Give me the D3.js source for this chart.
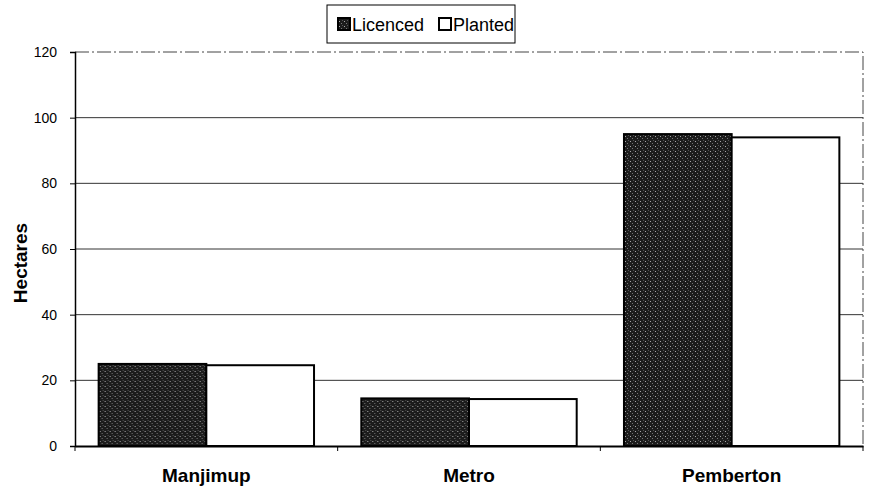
<!DOCTYPE html>
<html>
<head>
<meta charset="utf-8">
<script src="https://cdn.jsdelivr.net/npm/d3@7"></script>
<style>
  body { margin: 0; background: #fff; }
  svg { display: block; font-family: Arial, "Liberation Sans", sans-serif; }
</style>
</head>
<body>
<script>
// data
const regions = ["Manjimup", "Metro", "Pemberton"];
const series = ["Licenced", "Planted"];
const licenced = [25, 14.5, 95];
const planted = [24.6, 14.3, 94];
const yTicks = [0, 20, 40, 60, 80, 100, 120];

const w = 873, h = 493;
const m = { top: 52, right: 10, bottom: 47, left: 75 };

const svg = d3.select("body").append("svg")
  .attr("width", w)
  .attr("height", h);

// speckled dark fill, like the scanned original
const defs = svg.append("defs");
const pat = defs.append("pattern")
  .attr("id", "speckle")
  .attr("width", 5).attr("height", 5)
  .attr("patternUnits", "userSpaceOnUse");
pat.append("rect").attr("width", 5).attr("height", 5).attr("fill", "#1c1c1c");
pat.append("rect").attr("x", 1).attr("y", 1).attr("width", 1).attr("height", 1).attr("fill", "#aaa");
pat.append("rect").attr("x", 3).attr("y", 3).attr("width", 1).attr("height", 1).attr("fill", "#777");
pat.append("rect").attr("x", 4).attr("y", 0).attr("width", 1).attr("height", 1).attr("fill", "#555");

const x0 = d3.scaleBand()
  .domain(regions)
  .range([m.left, w - m.right])
  .paddingInner(0.18)
  .paddingOuter(0.09);

const x1 = d3.scaleBand()
  .domain(series)
  .range([0, x0.bandwidth()]);

const y = d3.scaleLinear()
  .domain([0, 120])
  .range([h - m.bottom, m.top]);

// gridlines
svg.append("g")
  .selectAll("line")
  .data(yTicks.slice(1, -1))
  .join("line")
  .attr("x1", m.left).attr("x2", w - m.right)
  .attr("y1", d => y(d)).attr("y2", d => y(d))
  .attr("stroke", "#333")
  .attr("stroke-width", 1);

// top and right border (broken like the scan)
svg.append("path")
  .attr("d", `M${m.left},${y(120)}H${w - m.right}V${y(0)}`)
  .attr("fill", "none")
  .attr("stroke", "#444")
  .attr("stroke-width", 1)
  .attr("stroke-dasharray", "14,3,2,3");

// bars
const rows = regions.map((r, i) => ({ region: r, values: [licenced[i], planted[i]] }));

const groups = svg.append("g")
  .selectAll("g")
  .data(rows)
  .join("g")
  .attr("transform", d => `translate(${x0(d.region)},0)`);

groups.selectAll("rect")
  .data(d => d.values.map((v, j) => ({ key: series[j], value: v })))
  .join("rect")
  .attr("x", d => x1(d.key))
  .attr("y", d => y(d.value))
  .attr("width", x1.bandwidth())
  .attr("height", d => y(0) - y(d.value))
  .attr("fill", d => d.key === "Licenced" ? "url(#speckle)" : "#fff")
  .attr("stroke", "#000")
  .attr("stroke-width", 2);

// y axis
const yAxis = d3.axisLeft(y)
  .tickValues(yTicks)
  .tickSize(5)
  .tickPadding(13);

svg.append("g")
  .attr("transform", `translate(${m.left},0)`)
  .call(yAxis)
  .call(g => g.select(".domain").attr("stroke", "#000").attr("stroke-width", 1.5))
  .call(g => g.selectAll("text").attr("font-size", 14).attr("fill", "#000"));

// x axis
const xAxis = d3.axisBottom(x0).tickSize(0).tickPadding(23);

const xg = svg.append("g")
  .attr("transform", `translate(0,${y(0)})`)
  .call(xAxis);
xg.select(".domain").attr("stroke", "#000").attr("stroke-width", 2);
xg.selectAll("text")
  .attr("font-size", 19)
  .attr("font-weight", "bold")
  .attr("fill", "#000");

// small ticks between categories
const bounds = [m.left, ...regions.slice(1).map(r => x0(r) - x0.step() * x0.paddingInner() / 2), w - m.right];
xg.selectAll(".sep")
  .data(bounds)
  .join("line")
  .attr("class", "sep")
  .attr("x1", d => d).attr("x2", d => d)
  .attr("y1", 0).attr("y2", 5)
  .attr("stroke", "#000");

// y title
svg.append("text")
  .attr("transform", "translate(27,263) rotate(-90)")
  .attr("text-anchor", "middle")
  .attr("font-size", 19)
  .attr("font-weight", "bold")
  .text("Hectares");

// legend
const lg = svg.append("g").attr("transform", "translate(327,5)");
lg.append("rect")
  .attr("width", 188).attr("height", 38)
  .attr("fill", "#fff")
  .attr("stroke", "#000")
  .attr("stroke-width", 1);

const items = lg.selectAll(".item")
  .data(series)
  .join("g")
  .attr("class", "item")
  .attr("transform", (d, i) => `translate(${i === 0 ? 11 : 112},0)`);

items.append("rect")
  .attr("x", 0).attr("y", 13)
  .attr("width", 12).attr("height", 12)
  .attr("fill", d => d === "Licenced" ? "url(#speckle)" : "#fff")
  .attr("stroke", "#000")
  .attr("stroke-width", 2);

items.append("text")
  .attr("x", 14).attr("y", 26)
  .attr("font-size", 18)
  .text(d => d);
</script>
</body>
</html>
